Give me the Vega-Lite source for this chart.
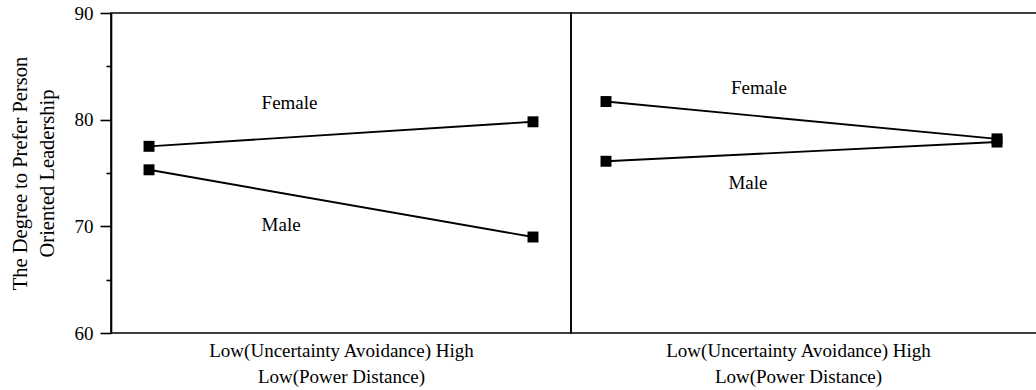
{
  "$schema": "https://vega.github.io/schema/vega-lite/v6.json",
  "padding": {"left": 9, "top": 3, "right": 0, "bottom": 0},
  "spacing": 0,
  "bounds": "flush",
  "background": "white",
  "config": {
    "view": {"stroke": "black", "strokeWidth": 1.6},
    "font": "Liberation Serif",
    "axis": {
      "labelFont": "Liberation Serif",
      "titleFont": "Liberation Serif",
      "titleFontWeight": "normal",
      "labelColor": "black",
      "titleColor": "black",
      "domainColor": "black",
      "tickColor": "black",
      "grid": false
    },
    "text": {"font": "Liberation Serif", "fontSize": 19, "color": "black"}
  },
  "datasets": {
    "points": [
      {"panel": "Left", "gender": "Female", "ua": 0, "score": 77.5},
      {"panel": "Left", "gender": "Female", "ua": 1, "score": 79.8},
      {"panel": "Left", "gender": "Male", "ua": 0, "score": 75.3},
      {"panel": "Left", "gender": "Male", "ua": 1, "score": 69.0},
      {"panel": "Right", "gender": "Female", "ua": 0, "score": 81.7},
      {"panel": "Right", "gender": "Female", "ua": 1, "score": 78.2},
      {"panel": "Right", "gender": "Male", "ua": 0, "score": 76.1},
      {"panel": "Right", "gender": "Male", "ua": 1, "score": 77.9}
    ],
    "labels": [
      {"panel": "Left", "label": "Female", "ua": 0.366, "score": 80.97},
      {"panel": "Left", "label": "Male", "ua": 0.344, "score": 69.57},
      {"panel": "Right", "label": "Female", "ua": 0.391, "score": 82.38},
      {"panel": "Right", "label": "Male", "ua": 0.363, "score": 73.48}
    ]
  },
  "hconcat": [
    {
      "width": 460,
      "height": 320,
      "encoding": {
        "x": {
          "field": "ua",
          "type": "quantitative",
          "scale": {"domain": [-0.099, 1.099], "nice": false, "zero": false},
          "axis": {
            "labels": false,
            "ticks": false,
            "domain": false,
            "title": ["Low(Uncertainty Avoidance) High", "Low(Power Distance)"],
            "titleFontSize": 19,
            "titlePadding": 8,
            "titleLineHeight": 26
          }
        },
        "y": {
          "field": "score",
          "type": "quantitative",
          "scale": {"domain": [60, 90], "nice": false, "zero": false},
          "axis": {
            "values": [60, 65, 70, 75, 80, 85, 90],
            "labelExpr": "datum.value % 10 === 0 ? datum.label : ''",
            "tickSize": {"condition": {"test": "datum.value % 10 === 0", "value": 11}, "value": 5},
            "tickWidth": 1.6,
            "domainWidth": 1.6,
            "labelFontSize": 19,
            "labelPadding": 7,
            "title": ["The Degree to Prefer Person", "Oriented Leadership"],
            "titleFontSize": 20.5,
            "titlePadding": 17,
            "titleLineHeight": 27
          }
        }
      },
      "layer": [
        {
          "data": {"name": "points"},
          "transform": [{"filter": "datum.panel === 'Left'"}],
          "mark": {"type": "line", "color": "black", "strokeWidth": 1.9},
          "encoding": {"detail": {"field": "gender"}}
        },
        {
          "data": {"name": "points"},
          "transform": [{"filter": "datum.panel === 'Left'"}],
          "mark": {"type": "point", "shape": "square", "filled": true, "color": "black", "size": 120, "opacity": 1}
        },
        {
          "data": {"name": "labels"},
          "transform": [{"filter": "datum.panel === 'Left'"}],
          "mark": {"type": "text", "align": "center", "baseline": "alphabetic"},
          "encoding": {"text": {"field": "label"}}
        }
      ]
    },
    {
      "width": 470,
      "height": 320,
      "encoding": {
        "x": {
          "field": "ua",
          "type": "quantitative",
          "scale": {"domain": [-0.0895, 1.1125], "nice": false, "zero": false},
          "axis": {
            "labels": false,
            "ticks": false,
            "domain": false,
            "title": ["Low(Uncertainty Avoidance) High", "Low(Power Distance)"],
            "titleFontSize": 19,
            "titlePadding": 8,
            "titleLineHeight": 26,
            "titleX": 227
          }
        },
        "y": {
          "field": "score",
          "type": "quantitative",
          "scale": {"domain": [60, 90], "nice": false, "zero": false},
          "axis": null
        }
      },
      "layer": [
        {
          "data": {"name": "points"},
          "transform": [{"filter": "datum.panel === 'Right'"}],
          "mark": {"type": "line", "color": "black", "strokeWidth": 1.9},
          "encoding": {"detail": {"field": "gender"}}
        },
        {
          "data": {"name": "points"},
          "transform": [{"filter": "datum.panel === 'Right'"}],
          "mark": {"type": "point", "shape": "square", "filled": true, "color": "black", "size": 120, "opacity": 1}
        },
        {
          "data": {"name": "labels"},
          "transform": [{"filter": "datum.panel === 'Right'"}],
          "mark": {"type": "text", "align": "center", "baseline": "alphabetic"},
          "encoding": {"text": {"field": "label"}}
        }
      ]
    }
  ]
}
